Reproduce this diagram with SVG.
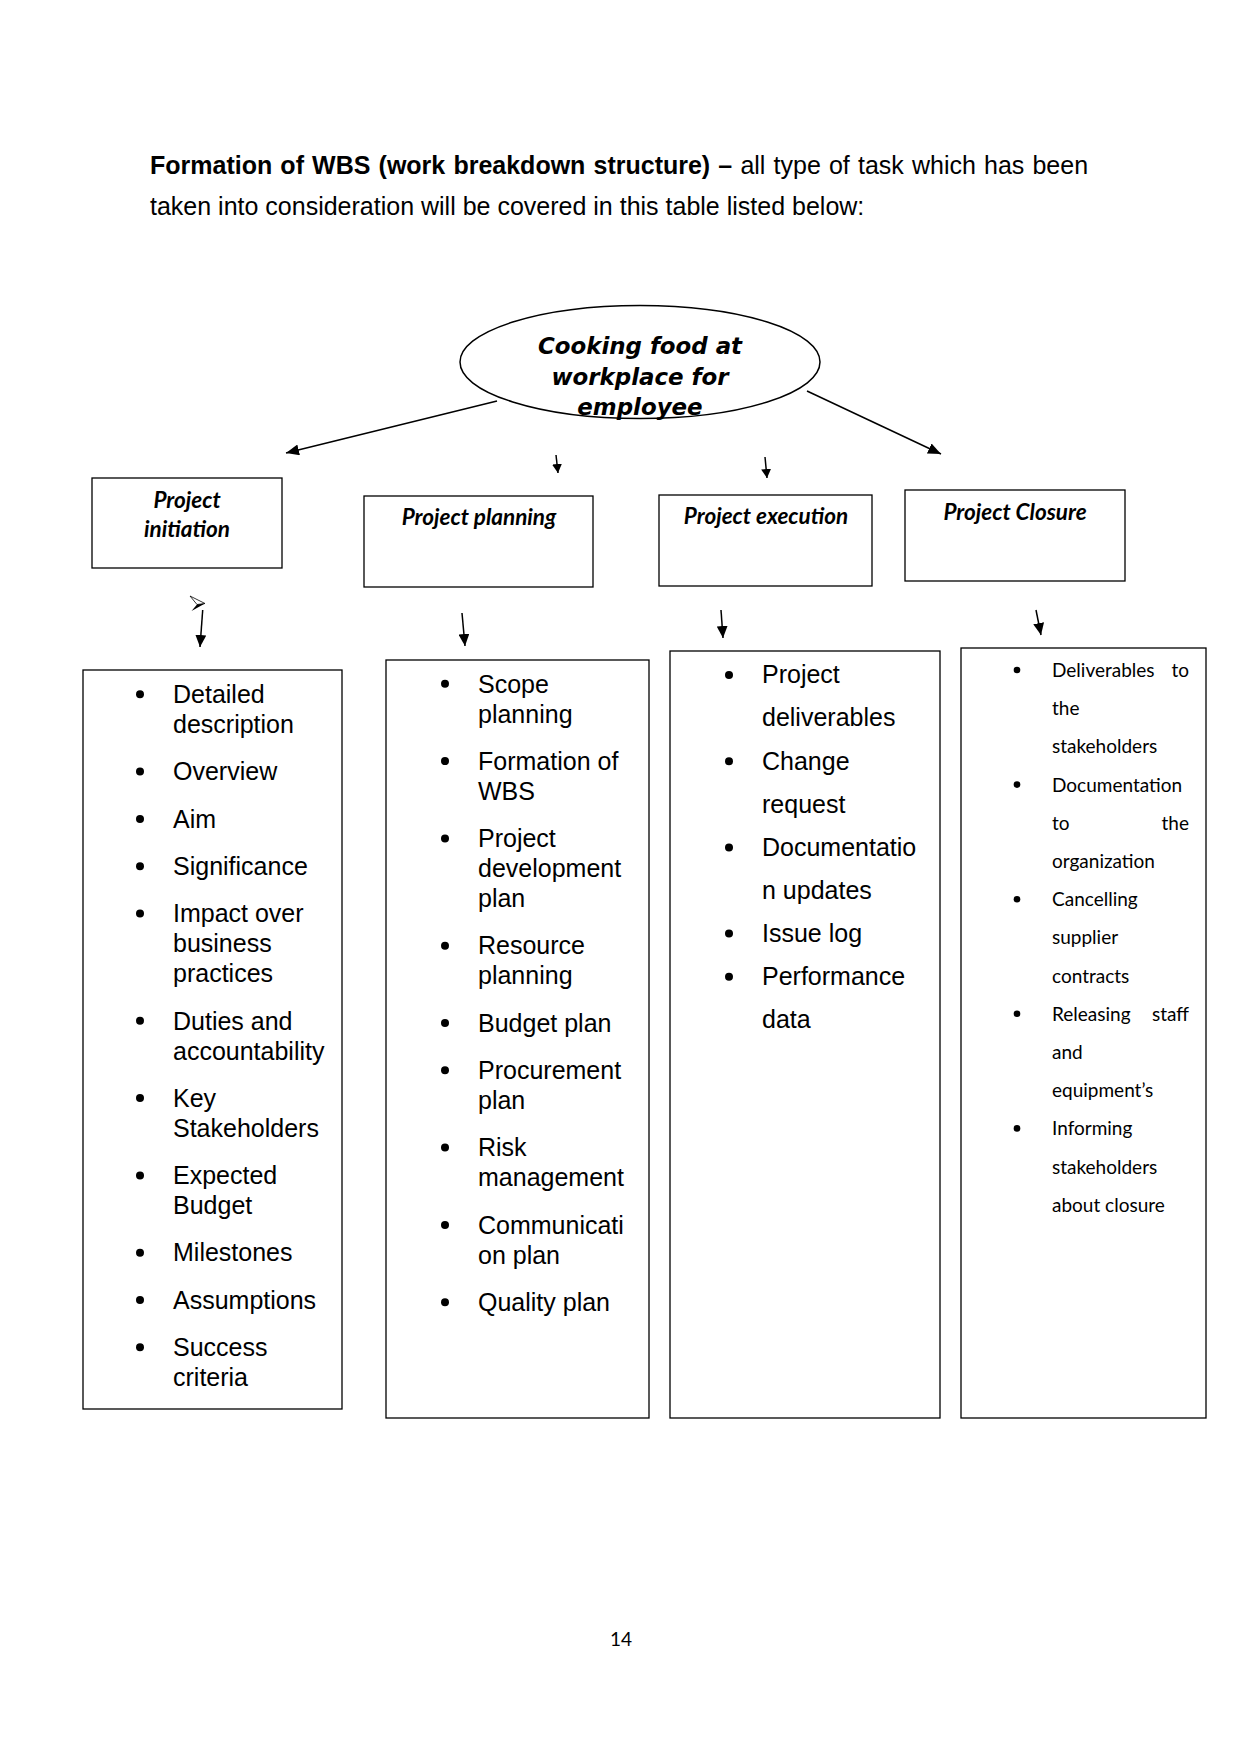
<svg xmlns="http://www.w3.org/2000/svg" width="1241" height="1754" viewBox="0 0 1241 1754">
<style>
.hdr{font-family:"Liberation Sans",Arial,sans-serif;font-size:25px;fill:#000}
.b{font-weight:bold}
.root{font-family:"DejaVu Sans",sans-serif;font-weight:bold;font-style:oblique;font-size:22.9px;text-anchor:middle;fill:#000}
.phase{font-family:Lato,"Liberation Sans",sans-serif;font-weight:bold;font-style:italic;font-size:22.5px;text-anchor:middle;fill:#000}
.item{font-family:"Liberation Sans",Arial,sans-serif;font-size:25px;fill:#000}
.item2{font-family:Lato,"Liberation Sans",sans-serif;font-size:19px;fill:#000}
.box{fill:#fff;stroke:#000;stroke-width:1.3}
.conn{stroke:#000;stroke-width:1.5;fill:none}
.dot{fill:#000}
.pg{font-family:Lato,"Liberation Sans",sans-serif;font-size:19px;text-anchor:middle;fill:#000}
</style>
<defs>
<marker id="ah" markerWidth="13" markerHeight="11" refX="13" refY="5.5" orient="auto" markerUnits="userSpaceOnUse"><path d="M0,0 L13,5.5 L0,11 z" fill="#000"/></marker>
<marker id="ahs" markerWidth="9" markerHeight="10" refX="9" refY="5" orient="auto" markerUnits="userSpaceOnUse"><path d="M0,0 L9,5 L0,10 z" fill="#000"/></marker>
<marker id="ahm" markerWidth="12" markerHeight="11" refX="12" refY="5.5" orient="auto" markerUnits="userSpaceOnUse"><path d="M0,0 L12,5.5 L0,11 z" fill="#000"/></marker>
</defs>
<rect x="0" y="0" width="1241" height="1754" fill="#fff"/>

<g id="heading">
<text class="hdr" x="150" y="173.5" word-spacing="1.2"><tspan class="b">Formation of WBS (work breakdown structure) –</tspan> all type of task which has been</text>
<text class="hdr" x="150" y="215">taken into consideration will be covered in this table listed below:</text>
</g>

<g id="root-node">
<ellipse cx="640" cy="362" rx="180" ry="56.5" fill="#fff" stroke="#000" stroke-width="1.5"/>
<text class="root" x="640" y="354">Cooking food at</text>
<text class="root" x="640" y="384.5">workplace for</text>
<text class="root" x="640" y="415">employee</text>
</g>

<g id="phase-initiation">
<rect class="box" x="92" y="478" width="190" height="90"/>
<text class="phase" x="187" y="508">Project</text>
<text class="phase" x="187" y="537">initiation</text>
</g>
<g id="phase-planning">
<rect class="box" x="364" y="496" width="229" height="91"/>
<text class="phase" x="479" y="524.5">Project planning</text>
</g>
<g id="phase-execution">
<rect class="box" x="659" y="495" width="213" height="91"/>
<text class="phase" x="766" y="524">Project execution</text>
</g>
<g id="phase-closure">
<rect class="box" x="905" y="490" width="220" height="91"/>
<text class="phase" x="1015" y="520">Project Closure</text>
</g>

<g id="list-initiation">
<rect class="box" x="83" y="670" width="259" height="739"/>
<circle class="dot" cx="140" cy="694.3" r="4"/>
<circle class="dot" cx="140" cy="771.6" r="4"/>
<circle class="dot" cx="140" cy="818.9" r="4"/>
<circle class="dot" cx="140" cy="866.2" r="4"/>
<circle class="dot" cx="140" cy="913.5" r="4"/>
<circle class="dot" cx="140" cy="1020.8" r="4"/>
<circle class="dot" cx="140" cy="1098.1" r="4"/>
<circle class="dot" cx="140" cy="1175.4" r="4"/>
<circle class="dot" cx="140" cy="1252.7" r="4"/>
<circle class="dot" cx="140" cy="1300" r="4"/>
<circle class="dot" cx="140" cy="1347.3" r="4"/>
<text class="item" x="173" y="703">Detailed<tspan x="173" dy="30">description</tspan></text>
<text class="item" x="173" y="780.3">Overview</text>
<text class="item" x="173" y="827.6">Aim</text>
<text class="item" x="173" y="874.9">Significance</text>
<text class="item" x="173" y="922.2">Impact over<tspan x="173" dy="30">business</tspan><tspan x="173" dy="30">practices</tspan></text>
<text class="item" x="173" y="1029.5">Duties and<tspan x="173" dy="30">accountability</tspan></text>
<text class="item" x="173" y="1106.8">Key<tspan x="173" dy="30">Stakeholders</tspan></text>
<text class="item" x="173" y="1184.1">Expected<tspan x="173" dy="30">Budget</tspan></text>
<text class="item" x="173" y="1261.4">Milestones</text>
<text class="item" x="173" y="1308.7">Assumptions</text>
<text class="item" x="173" y="1356">Success<tspan x="173" dy="30">criteria</tspan></text>
</g>

<g id="list-planning">
<rect class="box" x="386" y="660" width="263" height="758"/>
<circle class="dot" cx="445" cy="683.8" r="4"/>
<circle class="dot" cx="445" cy="761.1" r="4"/>
<circle class="dot" cx="445" cy="838.4" r="4"/>
<circle class="dot" cx="445" cy="945.7" r="4"/>
<circle class="dot" cx="445" cy="1023" r="4"/>
<circle class="dot" cx="445" cy="1070.3" r="4"/>
<circle class="dot" cx="445" cy="1147.6" r="4"/>
<circle class="dot" cx="445" cy="1224.9" r="4"/>
<circle class="dot" cx="445" cy="1302.2" r="4"/>
<text class="item" x="478" y="692.5">Scope<tspan x="478" dy="30">planning</tspan></text>
<text class="item" x="478" y="769.8">Formation of<tspan x="478" dy="30">WBS</tspan></text>
<text class="item" x="478" y="847.1">Project<tspan x="478" dy="30">development</tspan><tspan x="478" dy="30">plan</tspan></text>
<text class="item" x="478" y="954.4">Resource<tspan x="478" dy="30">planning</tspan></text>
<text class="item" x="478" y="1031.7">Budget plan</text>
<text class="item" x="478" y="1079">Procurement<tspan x="478" dy="30">plan</tspan></text>
<text class="item" x="478" y="1156.3">Risk<tspan x="478" dy="30">management</tspan></text>
<text class="item" x="478" y="1233.6">Communicati<tspan x="478" dy="30">on plan</tspan></text>
<text class="item" x="478" y="1310.9">Quality plan</text>
</g>

<g id="list-execution">
<rect class="box" x="670" y="651" width="270" height="767"/>
<circle class="dot" cx="729" cy="675" r="4"/>
<circle class="dot" cx="729" cy="761.2" r="4"/>
<circle class="dot" cx="729" cy="847.4" r="4"/>
<circle class="dot" cx="729" cy="933.6" r="4"/>
<circle class="dot" cx="729" cy="976.7" r="4"/>
<text class="item" x="762" y="683.3">Project<tspan x="762" dy="43.1">deliverables</tspan></text>
<text class="item" x="762" y="769.5">Change<tspan x="762" dy="43.1">request</tspan></text>
<text class="item" x="762" y="855.7">Documentatio<tspan x="762" dy="43.1">n updates</tspan></text>
<text class="item" x="762" y="941.9">Issue log</text>
<text class="item" x="762" y="985">Performance<tspan x="762" dy="43.1">data</tspan></text>
</g>

<g id="list-closure">
<rect class="box" x="961" y="648" width="245" height="770"/>
<circle class="dot" cx="1017" cy="670" r="3.3"/>
<circle class="dot" cx="1017" cy="784.6" r="3.3"/>
<circle class="dot" cx="1017" cy="899.2" r="3.3"/>
<circle class="dot" cx="1017" cy="1013.8" r="3.3"/>
<circle class="dot" cx="1017" cy="1128.4" r="3.3"/>
<text class="item2" x="1052" y="677">Deliverables<tspan x="1189" text-anchor="end">to</tspan></text>
<text class="item2" x="1052" y="715.2">the</text>
<text class="item2" x="1052" y="753.4">stakeholders</text>
<text class="item2" x="1052" y="791.6">Documentation</text>
<text class="item2" x="1052" y="829.8">to<tspan x="1189" text-anchor="end">the</tspan></text>
<text class="item2" x="1052" y="868">organization</text>
<text class="item2" x="1052" y="906.2">Cancelling</text>
<text class="item2" x="1052" y="944.4">supplier</text>
<text class="item2" x="1052" y="982.6">contracts</text>
<text class="item2" x="1052" y="1020.8">Releasing<tspan x="1189" text-anchor="end">staff</tspan></text>
<text class="item2" x="1052" y="1059">and</text>
<text class="item2" x="1052" y="1097.2">equipment’s</text>
<text class="item2" x="1052" y="1135.4">Informing</text>
<text class="item2" x="1052" y="1173.6">stakeholders</text>
<text class="item2" x="1052" y="1211.8">about closure</text>
</g>

<g id="connectors">
<line class="conn" x1="497" y1="401" x2="286" y2="453" marker-end="url(#ah)"/>
<line class="conn" x1="807" y1="391" x2="941" y2="454" marker-end="url(#ah)"/>
<line class="conn" x1="556" y1="455" x2="558" y2="473" marker-end="url(#ahs)"/>
<line class="conn" x1="765" y1="457" x2="767" y2="478" marker-end="url(#ahs)"/>
<line class="conn" x1="202.7" y1="610" x2="200" y2="647" marker-end="url(#ahm)"/>
<path d="M190,596 L205,603.5 L197,604.5 Z" fill="#fff" stroke="#000" stroke-width="0.8"/>
<path d="M197,604.5 L205,603.5 L191.5,611 Z" fill="#000"/>
<line class="conn" x1="462" y1="613" x2="465" y2="646" marker-end="url(#ahm)"/>
<line class="conn" x1="721" y1="610" x2="723" y2="638" marker-end="url(#ahm)"/>
<line class="conn" x1="1036" y1="610" x2="1041" y2="635" marker-end="url(#ahm)"/>
</g>

<text class="pg" x="621" y="1646">14</text>
</svg>
